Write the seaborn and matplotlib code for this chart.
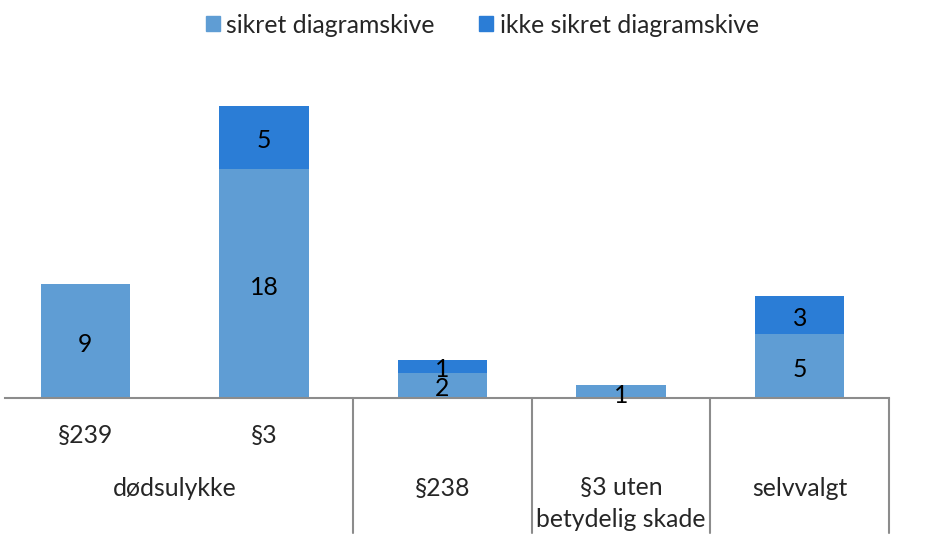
import matplotlib
matplotlib.use("Agg")
import matplotlib.pyplot as plt
import matplotlib.transforms as mtransforms
import seaborn as sns
import pandas as pd
from matplotlib.patches import Patch

# Data
categories = ["§239", "§3", "§238", "§3 uten\nbetydelig skade", "selvvalgt"]
groups = ["dødsulykke", "dødsulykke", "§238", "§3 uten\nbetydelig skade", "selvvalgt"]
sikret = [9, 18, 2, 1, 5]
ikke_sikret = [0, 5, 1, 0, 3]
series_names = ["sikret diagramskive", "ikke sikret diagramskive"]

light = "#5f9dd4"
dark = "#2b7dd6"

sns.set_theme(style="white")
plt.rcParams["font.family"] = ["Lato", "DejaVu Sans"]

df = pd.DataFrame({
    "kategori": categories,
    "sikret": sikret,
    "ikke": ikke_sikret,
})
df["total"] = df["sikret"] + df["ikke"]

fig = plt.figure(figsize=(9.42, 5.44), dpi=100)
ax = fig.add_axes([5 / 942, 146 / 544, 884 / 942, 338 / 544])

# Stacked bars: totals first (dark), then the lower series over them (light)
sns.barplot(data=df, x="kategori", y="total", color=dark, saturation=1,
            width=0.5, ax=ax, order=categories, linewidth=0)
sns.barplot(data=df, x="kategori", y="sikret", color=light, saturation=1,
            width=0.5, ax=ax, order=categories, linewidth=0)

ax.set_xlim(-0.45, 4.5)
ax.set_ylim(0, 26.6)
ax.set_xlabel("")
ax.set_ylabel("")
ax.set_xticks([])
ax.set_yticks([])
for side in ["left", "right", "top"]:
    ax.spines[side].set_visible(False)
ax.spines["bottom"].set_color("#8c8c8c")
ax.spines["bottom"].set_linewidth(1.5)

# Segment value labels, nudged slightly down so digits sit centred
fs = 17.8
shift = mtransforms.offset_copy(ax.transData, fig=fig, x=0, y=-2.5, units="points")
for i, (a, b) in enumerate(zip(sikret, ikke_sikret)):
    if a:
        ax.text(i, a / 2, str(a), ha="center", va="center", fontsize=fs,
                color="black", transform=shift)
    if b:
        ax.text(i, a + b / 2, str(b), ha="center", va="center", fontsize=fs,
                color="black", transform=shift)

# Multi-level category axis
xt = ax.get_xaxis_transform()
for x in [1.5, 2.5, 3.5, 4.5]:
    ax.plot([x, x], [0, -0.40], color="#8c8c8c", lw=1.5, transform=xt, clip_on=False)

for i in [0, 1]:
    ax.text(i, -0.11, categories[i], ha="center", va="center", fontsize=fs,
            transform=xt, clip_on=False)
ax.text(0.5, -0.268, groups[0], ha="center", va="center", fontsize=fs,
        transform=xt, clip_on=False)
for i in [2, 3, 4]:
    y = -0.312 if "\n" in categories[i] else -0.268
    ax.text(i, y, categories[i], ha="center", va="center", fontsize=fs,
            transform=xt, clip_on=False, linespacing=1.5)

handles = [Patch(facecolor=light, edgecolor=light), Patch(facecolor=dark, edgecolor=dark)]
fig.legend(handles, series_names, loc="center", bbox_to_anchor=(0.512, 0.954), ncol=2,
           frameon=False, fontsize=fs, handlelength=0.57, handleheight=0.57,
           handletextpad=0.25, columnspacing=1.8)

fig.savefig("out.png", dpi=100)
